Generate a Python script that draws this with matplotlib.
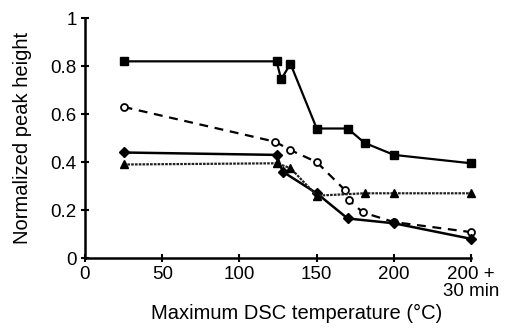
import matplotlib
matplotlib.use("Agg")
import matplotlib.pyplot as plt

plt.rcParams['font.family'] = ['Liberation Sans', 'DejaVu Sans']

# series (x = max DSC temperature, 250 = "200 + 30 min")
sq_x = [25, 124, 127, 133, 150, 170, 181, 200, 250]
sq_y = [0.82, 0.82, 0.745, 0.81, 0.54, 0.54, 0.48, 0.43, 0.395]

circ_x = [25, 123, 133, 150, 168, 171, 180, 200, 250]
circ_y = [0.63, 0.485, 0.45, 0.40, 0.285, 0.24, 0.19, 0.15, 0.108]

dia_x = [25, 124, 128, 150, 170, 200, 250]
dia_y = [0.44, 0.43, 0.36, 0.27, 0.165, 0.145, 0.08]

tri_x = [25, 124, 133, 150, 181, 200, 250]
tri_y = [0.39, 0.395, 0.375, 0.26, 0.27, 0.27, 0.27]

xticks = [0, 50, 100, 150, 200, 250]
xtick_labels = ["0", "50", "100", "150", "200", "200 +\n30 min"]
yticks = [0, 0.2, 0.4, 0.6, 0.8, 1]
ytick_labels = ["0", "0.2", "0.4", "0.6", "0.8", "1"]

fig = plt.figure(figsize=(5.15, 3.3), dpi=100)
ax = fig.add_axes([0.165, 0.218, 0.75, 0.727])

ax.plot(sq_x, sq_y, color="black", lw=1.6, marker="s", ms=6, mfc="black", clip_on=False)
ax.plot(circ_x, circ_y, color="black", lw=1.6, ls=(0, (4, 3)), marker="o", ms=5,
        mfc="white", mec="black", mew=1.3, clip_on=False)
ax.plot(dia_x, dia_y, color="black", lw=1.8, marker="D", ms=5, mfc="black", clip_on=False)
ax.plot(tri_x, tri_y, color="#222222", lw=1.6, ls=(0, (1.2, 0.5)), marker="^", ms=6,
        mfc="black", mec="black", clip_on=False)

ax.set_xlim(0, 250)
ax.set_ylim(0, 1)
ax.set_xticks(xticks)
ax.set_xticklabels(xtick_labels)
ax.set_yticks(yticks)
ax.set_yticklabels(ytick_labels)
last = ax.get_xticklabels()[-1]
last.set_multialignment("center")
last.set_linespacing(0.95)

ax.spines["top"].set_visible(False)
ax.spines["right"].set_visible(False)
ax.spines["left"].set_linewidth(1.8)
ax.spines["bottom"].set_linewidth(1.8)
ax.tick_params(direction="inout", length=6, width=1.5, labelsize=13.5, pad=3)

ax.set_xlabel("Maximum DSC temperature (°C)", fontsize=14.5, va="center")
ax.set_ylabel("Normalized peak height", fontsize=14.5, va="center")
ax.xaxis.set_label_coords(0.549, -0.229)
ax.yaxis.set_label_coords(-0.163, 0.5)

fig.savefig("out.png", dpi=100)
